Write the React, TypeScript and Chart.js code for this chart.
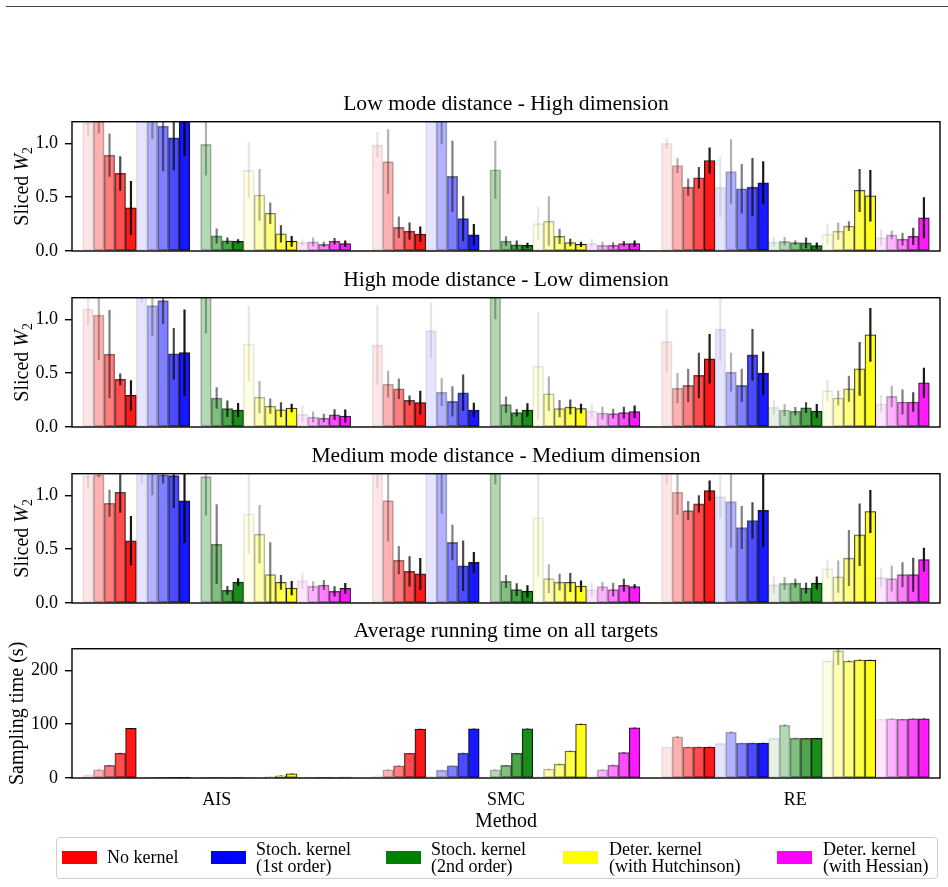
import React, { useEffect, useRef } from "react";
import { Chart, registerables } from "chart.js";

Chart.register(...registerables);

const FONT = "'Liberation Serif', 'Times New Roman', serif";

// ---------- categories / series meta ----------
const methods = ["AIS", "SMC", "RE"];
const kernelLabels: string[][] = [
  ["No kernel"],
  ["Stoch. kernel", "(1st order)"],
  ["Stoch. kernel", "(2nd order)"],
  ["Deter. kernel", "(with Hutchinson)"],
  ["Deter. kernel", "(with Hessian)"],
];
const kernelRGB = [
  [255, 0, 0],
  [0, 0, 255],
  [0, 128, 0],
  [255, 255, 0],
  [255, 0, 255],
];
const stepAlpha = [0.1, 0.3, 0.5, 0.7, 0.9];
const yTicksW2 = [0, 0.5, 1.0];
const yTicksTime = [0, 100, 200];

// ---------- Panel 1: Low mode distance - High dimension ----------
// rows: No kernel, Stoch 1st, Stoch 2nd, Deter Hutchinson, Deter Hessian
const lowHighAIS = [
  [1.19, 1.25, 0.89, 0.72, 0.4],
  [1.45, 1.3, 1.16, 1.05, 1.28],
  [null, 0.99, 0.14, 0.095, 0.09],
  [0.75, 0.52, 0.35, 0.16, 0.09],
  [0.08, 0.085, 0.062, 0.09, 0.068],
];
const lowHighAISErr = [
  [0.13, 0.16, 0.2, 0.16, 0.25],
  [0.2, 0.26, 0.42, 0.3, 0.4],
  [0, 0.29, 0.07, 0.03, 0.02],
  [0.26, 0.24, 0.1, 0.08, 0.05],
  [0.03, 0.04, 0.025, 0.03, 0.03],
];
const lowHighSMC = [
  [0.985, 0.83, 0.22, 0.185, 0.157],
  [1.4, 1.3, 0.694, 0.3, 0.15],
  [null, 0.754, 0.093, 0.058, 0.052],
  [0.254, 0.278, 0.136, 0.078, 0.062],
  [0.072, 0.052, 0.052, 0.068, 0.068],
];
const lowHighSMCErr = [
  [0.12, 0.3, 0.1, 0.08, 0.07],
  [0.15, 0.31, 0.33, 0.21, 0.1],
  [0, 0.27, 0.045, 0.04, 0.025],
  [0.16, 0.23, 0.07, 0.035, 0.025],
  [0.04, 0.035, 0.03, 0.025, 0.03],
];
const lowHighRE = [
  [1.0, 0.794, 0.593, 0.68, 0.84],
  [0.593, 0.738, 0.578, 0.593, 0.633],
  [0.084, 0.09, 0.078, 0.075, 0.05],
  [0.157, 0.185, 0.231, 0.562, 0.513],
  [0.124, 0.15, 0.11, 0.136, 0.309],
];
const lowHighREErr = [
  [0.05, 0.07, 0.08, 0.1, 0.12],
  [0.28, 0.3, 0.23, 0.27, 0.2],
  [0.045, 0.04, 0.02, 0.05, 0.03],
  [0.1, 0.08, 0.045, 0.2, 0.24],
  [0.08, 0.04, 0.06, 0.08, 0.19],
];

// ---------- Panel 2: High mode distance - Low dimension ----------
const highLowAIS = [
  [1.096, 1.04, 0.676, 0.442, 0.293],
  [1.35, 1.127, 1.173, 0.68, 0.69],
  [null, 1.3, 0.269, 0.17, 0.158],
  [0.772, 0.278, 0.194, 0.16, 0.176],
  [0.12, 0.093, 0.083, 0.114, 0.102],
];
const highLowAISErr = [
  [0.15, 0.42, 0.41, 0.055, 0.14],
  [0.2, 0.28, 0.22, 0.24, 0.4],
  [0, 0.43, 0.1, 0.077, 0.065],
  [0.35, 0.15, 0.07, 0.07, 0.04],
  [0.08, 0.05, 0.04, 0.05, 0.06],
];
const highLowSMC = [
  [0.763, 0.398, 0.355, 0.247, 0.226],
  [0.895, 0.324, 0.238, 0.318, 0.158],
  [null, 1.35, 0.207, 0.133, 0.158],
  [0.562, 0.309, 0.17, 0.185, 0.17],
  [0.148, 0.13, 0.124, 0.133, 0.142],
];
const highLowSMCErr = [
  [0.37, 0.125, 0.096, 0.045, 0.11],
  [0.26, 0.13, 0.14, 0.17, 0.067],
  [0, 0.35, 0.077, 0.035, 0.062],
  [0.5, 0.16, 0.08, 0.07, 0.045],
  [0.07, 0.06, 0.046, 0.055, 0.058],
];
const highLowRE = [
  [0.796, 0.361, 0.386, 0.479, 0.633],
  [0.911, 0.509, 0.386, 0.67, 0.5],
  [0.185, 0.158, 0.146, 0.179, 0.148],
  [0.337, 0.269, 0.355, 0.54, 0.855],
  [0.216, 0.284, 0.232, 0.232, 0.411],
];
const highLowREErr = [
  [0.29, 0.14, 0.155, 0.21, 0.23],
  [0.3, 0.18, 0.155, 0.24, 0.2],
  [0.07, 0.055, 0.04, 0.05, 0.065],
  [0.1, 0.07, 0.12, 0.25, 0.25],
  [0.08, 0.1, 0.117, 0.09, 0.14],
];

// ---------- Panel 3: Medium mode distance - Medium dimension ----------
const medMedAIS = [
  [1.18, 1.19, 0.926, 1.028, 0.578],
  [1.3, 1.3, 1.19, 1.182, 0.948],
  [null, 1.173, 0.546, 0.117, 0.194],
  [0.827, 0.639, 0.263, 0.191, 0.139],
  [0.207, 0.156, 0.167, 0.108, 0.136],
];
const medMedAISErr = [
  [0.12, 0.025, 0.125, 0.19, 0.23],
  [0.2, 0.3, 0.08, 0.3, 0.39],
  [0, 0.36, 0.37, 0.04, 0.035],
  [0.37, 0.27, 0.3, 0.068, 0.066],
  [0.074, 0.046, 0.047, 0.047, 0.05],
];
const medMedSMC = [
  [1.3, 0.951, 0.398, 0.293, 0.271],
  [1.4, 1.3, 0.562, 0.346, 0.377],
  [null, 1.35, 0.2, 0.124, 0.108],
  [0.794, 0.226, 0.194, 0.191, 0.156],
  [0.124, 0.153, 0.124, 0.164, 0.153],
];
const medMedSMCErr = [
  [0.235, 0.38, 0.13, 0.14, 0.147],
  [0.15, 0.47, 0.165, 0.235, 0.097],
  [0, 0.25, 0.06, 0.06, 0.057],
  [0.55, 0.134, 0.077, 0.088, 0.054],
  [0.069, 0.041, 0.064, 0.06, 0.02],
];
const medMedRE = [
  [1.3, 1.028, 0.858, 0.92, 1.043],
  [0.988, 0.942, 0.701, 0.766, 0.861],
  [0.17, 0.182, 0.185, 0.139, 0.185],
  [0.318, 0.244, 0.417, 0.633, 0.849],
  [0.238, 0.226, 0.263, 0.263, 0.402],
];
const medMedREErr = [
  [0.2, 0.21, 0.088, 0.08, 0.094],
  [0.2, 0.43, 0.2, 0.17, 0.34],
  [0.085, 0.06, 0.04, 0.05, 0.06],
  [0.088, 0.15, 0.26, 0.29, 0.2],
  [0.09, 0.12, 0.116, 0.158, 0.11],
];

// ---------- Panel 4: Average running time (s) ----------
const timeAIS = [
  [6, 15.3, 23.3, 46, 92],
  [0.3, 0.4, 0.5, 0.6, 0.8],
  [null, 0.5, 0.8, 1.0, 1.2],
  [0.8, 1.0, 2.0, 4.2, 7.9],
  [0.3, 0.4, 0.6, 0.9, 1.5],
];
const timeAISErr = [
  [0.3, 0.8, 0.8, 0.8, 0.8],
  [0.1, 0.1, 0.1, 0.1, 0.1],
  [0, 0.1, 0.1, 0.1, 0.1],
  [0.1, 0.1, 0.2, 0.3, 0.4],
  [0.1, 0.1, 0.1, 0.1, 0.1],
];
const timeSMC = [
  [4.2, 15.3, 22.7, 46, 90.8],
  [3, 14.7, 22.7, 46.4, 91.4],
  [2, 15.3, 23.3, 46, 91.4],
  [3, 16.6, 25.8, 50.1, 100],
  [4, 15.3, 23.9, 47, 93],
];
const timeSMCErr = [
  [0.3, 0.8, 0.6, 0.6, 0.6],
  [0.3, 0.8, 0.6, 0.6, 0.6],
  [0.3, 0.8, 0.6, 0.6, 0.6],
  [0.3, 0.8, 0.6, 0.6, 0.6],
  [0.3, 0.8, 0.6, 0.6, 0.6],
];
const timeRE = [
  [57.6, 76.6, 57.6, 57.6, 57.6],
  [64.4, 85.3, 65, 65, 65],
  [73.6, 98.2, 74, 73.6, 73.6],
  [217, 236, 217, 219, 218.5],
  [109, 110, 109, 110, 110],
];
const timeREErr = [
  [0.5, 1.5, 0.5, 0.5, 0.5],
  [0.5, 1.5, 0.5, 0.5, 0.5],
  [0.5, 1.5, 0.5, 0.5, 0.5],
  [1, 26, 1, 1, 1],
  [0.5, 1, 0.5, 0.5, 0.5],
];

// ---------- helpers ----------
const SLOTS = 27; // 25 bars + one empty slot each side per method
const xLabels: string[] = [];
for (let i = 0; i < methods.length * SLOTS; i++) {
  const g = Math.floor(i / SLOTS);
  xLabels.push(i % SLOTS === 13 ? methods[g] : "");
}

type Grid = (number | null)[][];

function buildSlots(means: Grid[], errs: number[][][]) {
  const values: (number | null)[] = [];
  const errors: number[] = [];
  const bg: string[] = [];
  const edge: string[] = [];
  const alpha: number[] = [];
  const pushEmpty = () => {
    values.push(null);
    errors.push(0);
    bg.push("rgba(0,0,0,0)");
    edge.push("rgba(0,0,0,0)");
    alpha.push(0);
  };
  means.forEach((m, g) => {
    pushEmpty();
    for (let k = 0; k < 5; k++) {
      for (let j = 0; j < 5; j++) {
        const a = stepAlpha[j];
        const [r, gg, b] = kernelRGB[k];
        values.push(m[k][j]);
        errors.push(errs[g][k][j]);
        bg.push(`rgba(${r},${gg},${b},${a})`);
        edge.push(`rgba(0,0,0,${a})`);
        alpha.push(a);
      }
    }
    pushEmpty();
  });
  return { values, errors, bg, edge, alpha };
}

type LabelPart = { text: string; italic?: boolean; sub?: boolean };

type PanelSpec = {
  title: string;
  plotTop: number;
  means: Grid[];
  errs: number[][][];
  yMax: number;
  yTicks: number[];
  digits: number;
  ylabel: LabelPart[];
  ylabelX: number;
  showX: boolean;
};

const panels: PanelSpec[] = [
  {
    title: "Low mode distance - High dimension",
    plotTop: 121,
    means: [lowHighAIS, lowHighSMC, lowHighRE],
    errs: [lowHighAISErr, lowHighSMCErr, lowHighREErr],
    yMax: 1.2,
    yTicks: yTicksW2,
    digits: 1,
    ylabel: [{ text: "Sliced " }, { text: "W", italic: true }, { text: "2", sub: true }],
    ylabelX: 21,
    showX: false,
  },
  {
    title: "High mode distance - Low dimension",
    plotTop: 297,
    means: [highLowAIS, highLowSMC, highLowRE],
    errs: [highLowAISErr, highLowSMCErr, highLowREErr],
    yMax: 1.2,
    yTicks: yTicksW2,
    digits: 1,
    ylabel: [{ text: "Sliced " }, { text: "W", italic: true }, { text: "2", sub: true }],
    ylabelX: 21,
    showX: false,
  },
  {
    title: "Medium mode distance - Medium dimension",
    plotTop: 473,
    means: [medMedAIS, medMedSMC, medMedRE],
    errs: [medMedAISErr, medMedSMCErr, medMedREErr],
    yMax: 1.2,
    yTicks: yTicksW2,
    digits: 1,
    ylabel: [{ text: "Sliced " }, { text: "W", italic: true }, { text: "2", sub: true }],
    ylabelX: 21,
    showX: false,
  },
  {
    title: "Average running time on all targets",
    plotTop: 648,
    means: [timeAIS, timeSMC, timeRE],
    errs: [timeAISErr, timeSMCErr, timeREErr],
    yMax: 240,
    yTicks: yTicksTime,
    digits: 0,
    ylabel: [{ text: "Sampling time (s)" }],
    ylabelX: 16.5,
    showX: true,
  },
];

const TOP_SPACE = 40;
const PLOT_H = 130;
const XAXIS_H = 60;
const BOTTOM_PAD = 18;

function Panel({ spec }: { spec: PanelSpec }) {
  const ref = useRef<HTMLCanvasElement | null>(null);
  const height = TOP_SPACE + PLOT_H + (spec.showX ? XAXIS_H : BOTTOM_PAD);

  useEffect(() => {
    if (!ref.current) return;
    const s = buildSlots(spec.means, spec.errs);

    const errorBars = {
      id: "errorBars",
      afterDatasetsDraw(chart: any) {
        const meta = chart.getDatasetMeta(0);
        const y = chart.scales.y;
        const ctx = chart.ctx;
        const a = chart.chartArea;
        ctx.save();
        ctx.beginPath();
        ctx.rect(a.left, a.top, a.right - a.left, a.bottom - a.top);
        ctx.clip();
        ctx.lineWidth = 2.2;
        ctx.lineCap = "butt";
        meta.data.forEach((el: any, i: number) => {
          const v = s.values[i];
          const e = s.errors[i];
          if (v == null || !e) return;
          ctx.strokeStyle = `rgba(0,0,0,${s.alpha[i]})`;
          ctx.beginPath();
          ctx.moveTo(el.x, y.getPixelForValue(v + e));
          ctx.lineTo(el.x, y.getPixelForValue(v - e));
          ctx.stroke();
        });
        ctx.restore();
      },
    };

    const frame = {
      id: "frame",
      afterDraw(chart: any) {
        const ctx = chart.ctx;
        const a = chart.chartArea;
        ctx.save();
        ctx.strokeStyle = "#000";
        ctx.lineWidth = 1.4;
        ctx.strokeRect(a.left, a.top, a.right - a.left, a.bottom - a.top);
        // rotated y label
        const size = 20;
        const fonts = spec.ylabel.map(
          (p) => `${p.italic ? "italic " : ""}${p.sub ? size * 0.7 : size}px ${FONT}`
        );
        let total = 0;
        const widths = spec.ylabel.map((p, i) => {
          ctx.font = fonts[i];
          const w = ctx.measureText(p.text).width;
          total += w;
          return w;
        });
        const cy = (a.top + a.bottom) / 2;
        ctx.translate(spec.ylabelX, cy);
        ctx.rotate(-Math.PI / 2);
        ctx.fillStyle = "#000";
        ctx.textBaseline = "alphabetic";
        ctx.textAlign = "left";
        let x = -total / 2;
        const base = size * 0.33;
        spec.ylabel.forEach((p, i) => {
          ctx.font = fonts[i];
          ctx.fillText(p.text, x, p.sub ? base + size * 0.2 : base);
          x += widths[i];
        });
        ctx.restore();
      },
    };

    const chart = new Chart(ref.current, {
      type: "bar",
      data: {
        labels: xLabels,
        datasets: [
          {
            data: s.values as any,
            backgroundColor: s.bg,
            borderColor: s.edge,
            borderWidth: 1,
            borderSkipped: false,
            barPercentage: 1,
            categoryPercentage: 1,
            clip: 0 as any,
          },
        ],
      },
      options: {
        responsive: false,
        animation: false,
        layout: {
          padding: { left: 0, right: 8, top: 0, bottom: spec.showX ? 0 : BOTTOM_PAD },
        },
        plugins: {
          legend: { display: false },
          tooltip: { enabled: false },
          title: {
            display: true,
            text: spec.title,
            color: "#000",
            font: { family: FONT, size: 21.6, weight: "normal" as any },
            padding: { top: 10.4, bottom: 4.4 },
            fullSize: false,
          },
        },
        scales: {
          x: {
            type: "category",
            display: spec.showX,
            offset: true,
            afterFit: (sc: any) => {
              sc.height = spec.showX ? XAXIS_H : 0;
            },
            grid: {
              display: true,
              drawOnChartArea: false,
              drawTicks: true,
              tickLength: 7,
              offset: false,
              lineWidth: 1.4,
              color: (c: any) => (xLabels[c.index] ? "#000" : "rgba(0,0,0,0)"),
            },
            border: { display: false },
            ticks: {
              autoSkip: false,
              maxRotation: 0,
              minRotation: 0,
              padding: 4,
              color: "#000",
              font: { family: FONT, size: 18 },
              callback: (_v: any, i: number) => (xLabels[i] ? xLabels[i] : null),
            },
            title: {
              display: true,
              text: "Method",
              color: "#000",
              font: { family: FONT, size: 20 },
              padding: { top: 0, bottom: 4 },
            },
          },
          y: {
            min: 0,
            max: spec.yMax,
            afterFit: (sc: any) => {
              sc.width = 72;
            },
            afterBuildTicks: (sc: any) => {
              sc.ticks = spec.yTicks.map((v) => ({ value: v }));
            },
            grid: {
              display: true,
              drawOnChartArea: false,
              drawTicks: true,
              tickLength: 7,
              lineWidth: 1.4,
              color: "#000",
            },
            border: { display: false },
            ticks: {
              padding: 7,
              color: "#000",
              font: { family: FONT, size: 18 },
              callback: (v: any) => Number(v).toFixed(spec.digits),
            },
          },
        },
      },
      plugins: [errorBars, frame],
    } as any);
    return () => chart.destroy();
  }, []);

  return (
    <canvas
      ref={ref}
      width={948}
      height={height}
      style={{
        position: "absolute",
        left: 0,
        top: spec.plotTop - TOP_SPACE,
        width: 948,
        height,
      }}
    />
  );
}

const legendPatchX = [62, 211, 386, 563, 777];
const legendTextX = [107, 256, 431, 609, 823];

export default function App() {
  return (
    <div
      style={{
        position: "fixed",
        left: 0,
        top: 0,
        width: 948,
        height: 887,
        background: "#fff",
        overflow: "hidden",
        fontFamily: FONT,
      }}
    >
      <div
        style={{
          position: "absolute",
          left: 6,
          top: 6,
          width: 942,
          height: 1,
          background: "#444",
        }}
      />
      {panels.map((p, i) => (
        <Panel key={i} spec={p} />
      ))}
      <div
        style={{
          position: "absolute",
          left: 56,
          top: 837,
          width: 882,
          height: 42,
          border: "1px solid #cfcfcf",
          borderRadius: 4,
          boxSizing: "border-box",
          background: "rgba(255,255,255,0.8)",
        }}
      />
      {kernelLabels.map((lines, k) => {
        const [r, g, b] = kernelRGB[k];
        return (
          <React.Fragment key={k}>
            <div
              style={{
                position: "absolute",
                left: legendPatchX[k],
                top: 851,
                width: 35,
                height: 13,
                background: `rgb(${r},${g},${b})`,
              }}
            />
            <div
              style={{
                position: "absolute",
                left: legendTextX[k],
                top: 857.5 - (lines.length * 17) / 2,
                fontSize: 18,
                lineHeight: "17px",
                color: "#000",
                whiteSpace: "nowrap",
              }}
            >
              {lines.map((t, j) => (
                <div key={j}>{t}</div>
              ))}
            </div>
          </React.Fragment>
        );
      })}
    </div>
  );
}
